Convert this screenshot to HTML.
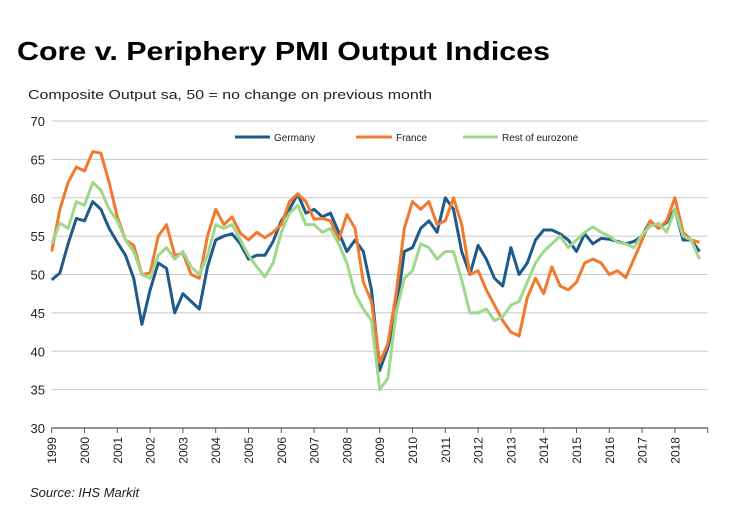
<!DOCTYPE html>
<html><head><meta charset="utf-8"><style>
body{margin:0;background:#fff;}
svg{display:block;font-family:"Liberation Sans",Arial,sans-serif;}
</style></head><body>
<svg id="chart" width="738" height="520" viewBox="0 0 738 520">
<text x="17" y="60" font-size="26" font-weight="bold" fill="#000" textLength="533" lengthAdjust="spacingAndGlyphs">Core v. Periphery PMI Output Indices</text>
<text x="28" y="99" font-size="13" fill="#222" textLength="404" lengthAdjust="spacingAndGlyphs">Composite Output sa, 50 = no change on previous  month</text>
<text x="30" y="497" font-size="13" font-style="italic" fill="#222">Source:  IHS Markit</text>
<g id="grid"></g><g id="axes"></g><g id="series"></g>
<g>
<line x1="235" y1="137" x2="270" y2="137" stroke="#1f5b8a" stroke-width="3"/>
<text x="274" y="141" font-size="10" fill="#222">Germany</text>
<line x1="356" y1="137" x2="392" y2="137" stroke="#f07a2e" stroke-width="3"/>
<text x="396" y="141" font-size="10" fill="#222">France</text>
<line x1="463" y1="137" x2="498" y2="137" stroke="#9fd88c" stroke-width="3"/>
<text x="502" y="141" font-size="10" fill="#222">Rest of eurozone</text>
</g>
</svg>
<script>
const yTicks=[30,35,40,45,50,55,60,65,70];
const yearLabels=[1999,2000,2001,2002,2003,2004,2005,2006,2007,2008,2009,2010,2011,2012,2013,2014,2015,2016,2017,2018];
const quarters=[];for(let y=1999;y<=2018;y++){for(let q=0;q<4;q++)quarters.push(y+q/4);}
const germany=[49.3,50.2,54,57.3,57,59.5,58.5,56,54.2,52.5,49.5,43.5,48,51.5,50.8,45,47.5,46.5,45.5,51,54.5,55,55.3,54,52,52.5,52.5,54.3,57,58.5,60.5,58,58.5,57.5,58,55.5,53,54.5,53,48,37.5,40.5,45,53,53.5,56,57,55.5,60,58.5,53,50,53.8,52,49.5,48.5,53.5,50,51.5,54.5,55.8,55.8,55.3,54.5,53,55.3,54,54.7,54.6,54.3,54,54.3,55,57,56,56.8,58.5,54.5,54.5,53];
const france=[53,58.5,62,64,63.5,66,65.8,62,57.5,54.5,53.8,50,50.2,55,56.5,52.5,52.8,50,49.5,55,58.5,56.5,57.5,55.4,54.5,55.5,54.8,55.5,56.5,59.5,60.5,59.5,57.2,57.3,57,54.5,57.8,56,49,46.5,38.5,41,47.5,56,59.5,58.5,59.5,56.5,57,60,56.5,50,50.5,48,46,44,42.5,42,47,49.5,47.5,51,48.5,48,49,51.5,52,51.5,50,50.5,49.6,52,54.5,57,56,57,60,55.5,54.5,54.2];
const rest=[54,56.7,56,59.5,59,62,61,58.5,57,54.5,53,50,49.5,52.5,53.5,52,53,51,50,52.5,56.5,56,56.5,54.5,52.5,51,49.7,51.5,55.5,58,59,56.5,56.5,55.5,56,54,51.5,47.5,45.5,44,35,36.5,45,49.5,50.5,54,53.5,52,53,53,49.3,45,45,45.5,44,44.5,46,46.5,49,51.5,53,54,55,53.5,54.5,55.5,56.2,55.5,55,54.2,54,53.5,55.2,56.3,56.7,55.5,58.5,55,54.5,52];
const NS="http://www.w3.org/2000/svg";
const X0=51.7,X1=707.7,T0=1999,T1=2019;
const xs=t=>X0+(t-T0)/(T1-T0)*(X1-X0);
const ys=v=>428-(v-30)/40*307;
const grid=document.getElementById('grid'),axes=document.getElementById('axes'),ser=document.getElementById('series');
yTicks.forEach(v=>{
 if(v>30){const l=document.createElementNS(NS,'line');
 l.setAttribute('x1',X0);l.setAttribute('x2',X1);l.setAttribute('y1',ys(v));l.setAttribute('y2',ys(v));
 l.setAttribute('stroke','#c8c8c8');l.setAttribute('stroke-width','1');
 
 
 grid.appendChild(l);}
 const t=document.createElementNS(NS,'text');
 t.setAttribute('x',45);t.setAttribute('y',ys(v)+5);t.setAttribute('text-anchor','end');t.setAttribute('font-size','13');t.setAttribute('fill','#222');
 t.textContent=v;
 
 
 axes.appendChild(t);
});
const ax=document.createElementNS(NS,'line');
ax.setAttribute('x1',X0);ax.setAttribute('x2',X1);ax.setAttribute('y1',428);ax.setAttribute('y2',428);ax.setAttribute('stroke','#555');ax.setAttribute('stroke-width','1.2');


axes.appendChild(ax);
for(let y=T0;y<=T1;y++){
 const tk=document.createElementNS(NS,'line');
 tk.setAttribute('x1',xs(y));tk.setAttribute('x2',xs(y));tk.setAttribute('y1',428);tk.setAttribute('y2',433);tk.setAttribute('stroke','#555');
 
 
 axes.appendChild(tk);
}
yearLabels.forEach(y=>{
 const t=document.createElementNS(NS,'text');
 const x=xs(y)+4.5,yy=437;
 t.setAttribute('x',x);t.setAttribute('y',yy);t.setAttribute('text-anchor','end');t.setAttribute('font-size','12');t.setAttribute('fill','#222');
 t.setAttribute('transform','rotate(-90 '+x+' '+yy+')');
 t.textContent=y;
 
 
 axes.appendChild(t);
});
function line(data,color,name){
 const p=document.createElementNS(NS,'polyline');
 p.setAttribute('points',data.map((v,i)=>xs(quarters[i]).toFixed(1)+','+ys(v).toFixed(1)).join(' '));
 p.setAttribute('fill','none');p.setAttribute('stroke',color);p.setAttribute('stroke-width','3');p.setAttribute('stroke-linejoin','round');
 
 
 ser.appendChild(p);
}
line(germany,'#1f5b8a','germany-line');
line(france,'#f07a2e','france-line');
line(rest,'#9fd88c','rest-of-eurozone-line');
</script>
</body></html>
